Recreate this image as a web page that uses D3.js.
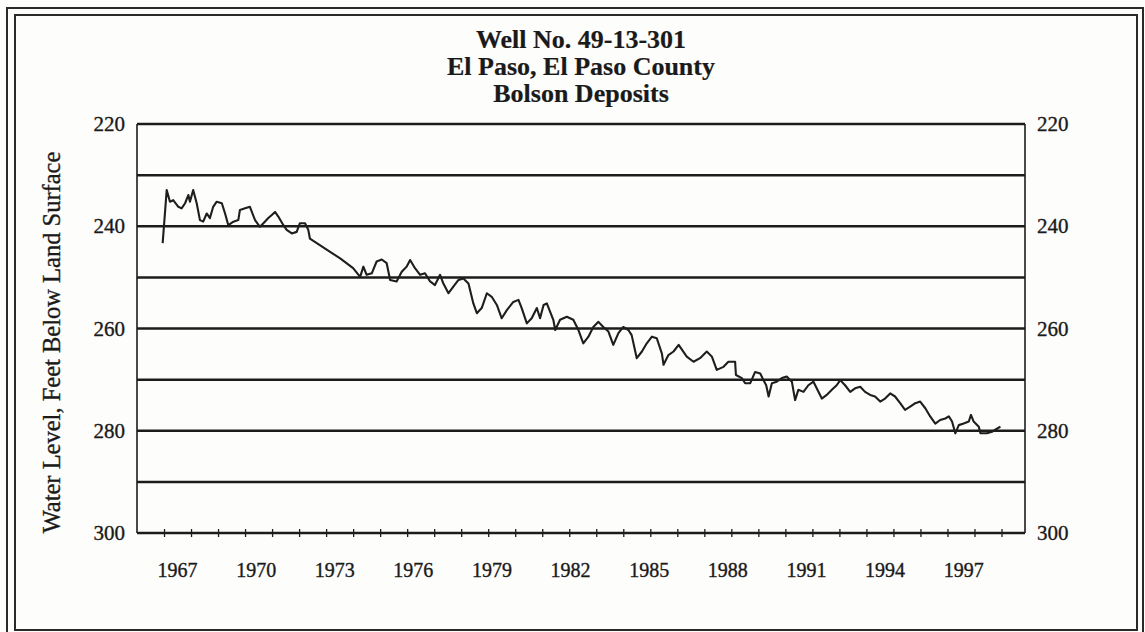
<!DOCTYPE html>
<html>
<head>
<meta charset="utf-8">
<script src="https://cdn.jsdelivr.net/npm/d3@7"></script>
<style>
  html, body { margin: 0; padding: 0; background: #fdfdfc; }
  svg { display: block; }
  text { font-family: "Liberation Serif", "DejaVu Serif", serif; fill: #1a1a1a; stroke: #1a1a1a; stroke-width: 0.35px; }
</style>
</head>
<body>
<svg id="chart" width="1145" height="632"></svg>
<script>
// Water level record, decimal year and depth below land surface (ft)
const years = [
  1966.95, 1967.10, 1967.22, 1967.34, 1967.53, 1967.65, 1967.78, 1967.90, 1967.96, 1968.08,
  1968.21, 1968.33, 1968.45, 1968.58, 1968.70, 1968.82, 1968.95, 1969.14, 1969.26, 1969.38,
  1969.57, 1969.75, 1969.81, 1970.00, 1970.18, 1970.37, 1970.55, 1970.68, 1970.86, 1970.99,
  1971.11, 1971.23, 1971.42, 1971.54, 1971.73, 1971.91, 1972.03, 1972.22, 1972.34, 1972.40,
  1973.52, 1974.00, 1974.26, 1974.38, 1974.50, 1974.69, 1974.87, 1975.06, 1975.24, 1975.37,
  1975.61, 1975.80, 1975.98, 1976.11, 1976.29, 1976.48, 1976.66, 1976.85, 1977.03, 1977.22,
  1977.34, 1977.53, 1977.71, 1977.90, 1978.08, 1978.27, 1978.45, 1978.58, 1978.76, 1978.95,
  1979.13, 1979.32, 1979.50, 1979.69, 1979.93, 1980.12, 1980.24, 1980.43, 1980.61, 1980.80,
  1980.92, 1981.05, 1981.17, 1981.29, 1981.41, 1981.48, 1981.66, 1981.91, 1982.15, 1982.34,
  1982.52, 1982.71, 1982.89, 1983.08, 1983.26, 1983.45, 1983.63, 1983.82, 1984.00, 1984.19,
  1984.31, 1984.50, 1984.69, 1984.87, 1985.06, 1985.24, 1985.43, 1985.49, 1985.67, 1985.86,
  1986.05, 1986.35, 1986.60, 1986.84, 1987.09, 1987.28, 1987.46, 1987.71, 1987.89, 1988.14,
  1988.17, 1988.39, 1988.51, 1988.70, 1988.88, 1989.07, 1989.19, 1989.29, 1989.38, 1989.50,
  1989.68, 1989.87, 1990.05, 1990.24, 1990.36, 1990.48, 1990.67, 1990.85, 1991.04, 1991.16,
  1991.35, 1991.53, 1991.72, 1991.90, 1992.03, 1992.21, 1992.40, 1992.58, 1992.77, 1992.95,
  1993.14, 1993.32, 1993.51, 1993.69, 1993.88, 1994.06, 1994.25, 1994.43, 1994.62, 1994.81,
  1994.99, 1995.18, 1995.36, 1995.55, 1995.73, 1995.92, 1996.05, 1996.17, 1996.29, 1996.42,
  1996.60, 1996.79, 1996.87, 1996.97, 1997.16, 1997.22, 1997.46, 1997.65, 1997.77, 1997.96
];
const depths = [
  243.3, 232.9, 235.2, 234.9, 236.2, 236.5, 235.5, 233.9, 235.2, 232.9,
  235.5, 238.8, 239.1, 237.5, 238.4, 236.2, 235.2, 235.5, 237.5, 239.8,
  239.1, 238.8, 236.8, 236.5, 236.2, 238.8, 240.1, 239.4, 238.4, 237.8,
  237.2, 238.1, 239.8, 240.7, 241.4, 241.1, 239.4, 239.4, 240.7, 242.4,
  246.3, 248.2, 249.9, 247.9, 249.5, 249.2, 246.9, 246.5, 247.2, 250.5,
  250.8, 248.9, 247.9, 246.6, 248.2, 249.5, 249.2, 250.8, 251.5, 249.5,
  251.2, 253.1, 251.8, 250.5, 250.2, 251.2, 255.1, 257.0, 256.0, 253.1,
  253.8, 255.4, 258.0, 256.4, 254.8, 254.4, 256.0, 259.0, 258.0, 256.0,
  258.0, 255.4, 255.1, 256.7, 258.3, 260.3, 258.3, 257.7, 258.3, 260.3,
  262.9, 261.6, 259.7, 258.7, 259.7, 260.6, 263.2, 260.9, 259.7, 260.3,
  261.3, 265.8, 264.5, 262.9, 261.6, 261.9, 264.9, 267.1, 265.2, 264.5,
  263.2, 265.5, 266.5, 265.8, 264.5, 265.5, 268.1, 267.5, 266.5, 266.5,
  269.1, 269.7, 270.7, 270.7, 268.5, 268.8, 270.1, 271.1, 273.3, 270.7,
  270.4, 269.7, 269.4, 270.4, 274.0, 272.0, 272.4, 271.1, 270.4, 271.7,
  273.7, 273.0, 272.0, 271.1, 270.1, 271.1, 272.4, 271.7, 271.4, 272.4,
  273.0, 273.3, 274.3, 273.7, 272.7, 273.3, 274.6, 275.9, 275.3, 274.6,
  274.3, 275.6, 277.2, 278.6, 277.9, 277.6, 277.2, 278.2, 280.5, 278.9,
  278.6, 278.2, 276.9, 278.2, 279.2, 280.5, 280.5, 280.2, 279.8, 279.2
];

// Axis values
const depthTicks = [220, 240, 260, 280, 300];
const gridLevels = [220, 230, 240, 250, 260, 270, 280, 290];
const yearTicks = d3.range(1967, 1999);
const yearLabels = [1967, 1970, 1973, 1976, 1979, 1982, 1985, 1988, 1991, 1994, 1997];
const titleLines = ["Well No. 49-13-301", "El Paso, El Paso County", "Bolson Deposits"];
const yTitle = "Water Level, Feet Below Land Surface";

const svg = d3.select("#chart");
const ink = "#1c1c1c";

const plot = { left: 137, right: 1025, top: 124, bottom: 533 };

const x = d3.scaleLinear().domain([1966, 1998.87]).range([plot.left, plot.right]);
const y = d3.scaleLinear().domain([220, 300]).range([plot.top, plot.bottom]);
// year labels drift slightly left of their ticks toward the right side
const xLabel = d3.scaleLinear().domain([1967, 1997]).range([x(1967.5), x(1996.6)]);

// double page frame
const frame = svg.append("g").attr("fill", "none").attr("stroke", "#2a2a2a");
frame.append("rect").attr("x", 7).attr("y", 8).attr("width", 1136).attr("height", 630)
  .attr("stroke-width", 2);
frame.append("rect").attr("x", 15).attr("y", 15).attr("width", 1122).attr("height", 615)
  .attr("stroke-width", 2);

// title
svg.append("g").selectAll("text").data(titleLines).join("text")
  .attr("x", 581)
  .attr("y", (d, i) => 48 + i * 27)
  .attr("text-anchor", "middle")
  .attr("font-size", 26)
  .attr("font-weight", "bold")
  .style("stroke-width", "0.2px")
  .text(d => d);

// horizontal grid lines
svg.append("g").selectAll("line").data(gridLevels).join("line")
  .attr("x1", plot.left).attr("x2", plot.right)
  .attr("y1", d => y(d)).attr("y2", d => y(d))
  .attr("stroke", ink).attr("stroke-width", 2.5);

// side borders
svg.append("g").selectAll("line").data([plot.left, plot.right]).join("line")
  .attr("x1", d => d).attr("x2", d => d)
  .attr("y1", plot.top).attr("y2", plot.bottom)
  .attr("stroke", ink).attr("stroke-width", 1.6);

// bottom axis with yearly ticks crossing the line
const xAxis = d3.axisBottom(x).tickValues(yearTicks).tickSize(8).tickFormat("");
const gx = svg.append("g").attr("transform", `translate(0,${plot.bottom - 4})`).call(xAxis);
gx.select(".domain").remove();
gx.selectAll(".tick line").attr("stroke", ink).attr("stroke-width", 1.3);
svg.append("line")
  .attr("x1", plot.left).attr("x2", plot.right)
  .attr("y1", plot.bottom).attr("y2", plot.bottom)
  .attr("stroke", ink).attr("stroke-width", 2.4);

svg.append("g").selectAll("text").data(yearLabels).join("text")
  .attr("x", d => xLabel(d))
  .attr("y", 577)
  .attr("text-anchor", "middle")
  .attr("font-size", 20)
  .text(d => d);

// left and right depth labels
const yAxisL = d3.axisLeft(y).tickValues(depthTicks).tickSize(0).tickPadding(12);
const gl = svg.append("g").attr("transform", `translate(${plot.left},0)`).call(yAxisL);
const yAxisR = d3.axisRight(y).tickValues(depthTicks).tickSize(0).tickPadding(12);
const gr = svg.append("g").attr("transform", `translate(${plot.right},0)`).call(yAxisR);
[gl, gr].forEach(g => {
  g.select(".domain").remove();
  g.selectAll(".tick text")
    .attr("font-family", "Liberation Serif, serif")
    .attr("font-size", 21)
    .attr("fill", "#1a1a1a");
});

// y axis title
svg.append("text")
  .attr("transform", `translate(60,${(plot.top + plot.bottom) / 2 + 14}) rotate(-90)`)
  .attr("text-anchor", "middle")
  .attr("font-size", 24.5)
  .text(yTitle);

// water level line
const line = d3.line().x((d, i) => x(years[i])).y(d => y(d));
svg.append("path")
  .datum(depths)
  .attr("d", line)
  .attr("fill", "none")
  .attr("stroke", "#1e1e1e")
  .attr("stroke-width", 2.1)
  .attr("stroke-linejoin", "round");
</script>
</body>
</html>
